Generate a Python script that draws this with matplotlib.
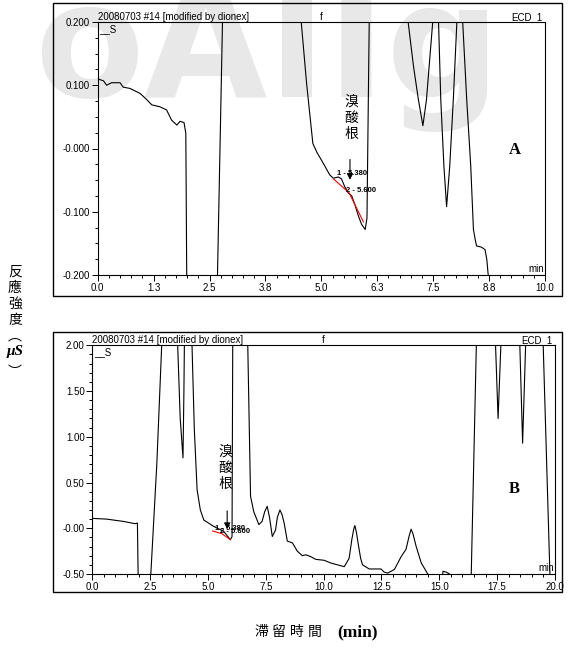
import matplotlib
matplotlib.use("Agg")
import matplotlib.pyplot as plt
from matplotlib.patches import Rectangle
from matplotlib.ticker import MultipleLocator, FixedLocator

cjk = ['Noto Sans CJK TC', 'DejaVu Sans']
plt.rcParams['font.family'] = ['Liberation Sans', 'DejaVu Sans']

# ---- panel A (0-10 min) ----
a_time = [0, 0.13, 0.2, 0.31, 0.5, 0.57, 0.72, 0.95, 1.1, 1.21, 1.39, 1.54, 1.65, 1.77, 1.84,
          1.93, 1.97, 1.99, 2.0, 2.65, 2.72, 2.79, 2.82, 4.5, 4.55, 4.67, 4.81, 4.9, 5.04, 5.19,
          5.27, 5.38, 5.45, 5.52, 5.6, 5.68, 5.75, 5.83, 5.9, 5.98, 6.02, 6.07, 6.09, 6.9, 6.94,
          7.06, 7.17, 7.27, 7.35, 7.41, 7.49, 7.51, 7.6, 7.62, 7.67, 7.74, 7.8, 7.87, 7.95, 8.03,
          8.05, 8.14, 8.16, 8.25, 8.34, 8.4, 8.44, 8.47, 8.58, 8.66, 8.7, 8.73, 8.76]
a_signal = [0.110, 0.107, 0.100, 0.104, 0.104, 0.097, 0.095, 0.087, 0.077, 0.069, 0.066, 0.061,
            0.045, 0.037, 0.043, 0.041, 0.024, -0.2, -0.3, -0.3, -0.05, 0.2, 0.3, 0.3, 0.2,
            0.103, 0.008, -0.006, -0.023, -0.042, -0.047, -0.045, -0.048, -0.060, -0.070,
            -0.075, -0.089, -0.107, -0.120, -0.128, -0.110, 0.2, 0.3, 0.3, 0.2, 0.13, 0.077,
            0.036, 0.077, 0.13, 0.2, 0.3, 0.3, 0.2, 0.077, -0.028, -0.092, -0.028, 0.077, 0.2,
            0.3, 0.3, 0.2, 0.077, -0.028, -0.128, -0.144, -0.154, -0.156, -0.160, -0.176, -0.2,
            -0.3]
a_base_t = [5.27, 5.62, 5.94]
a_base_y = [-0.048, -0.070, -0.116]
a_xticks = [0, 1.25, 2.5, 3.75, 5.0, 6.25, 7.5, 8.75, 10.0]
a_xlabels = ["0.0", "1.3", "2.5", "3.8", "5.0", "6.3", "7.5", "8.8", "10.0"]
a_yticks = [0.2, 0.1, 0.0, -0.1, -0.2]
a_ylabels = ["0.200", "0.100", "-0.000", "-0.100", "-0.200"]

# ---- panel B (0-20 min) ----
b_time = [0, 0.62, 1.34, 1.85, 1.95, 1.98, 2.0, 2.5, 2.53, 2.79, 3.0, 3.02, 3.67, 3.69, 3.8,
          3.92, 3.96, 3.98, 4.0, 4.29, 4.31, 4.41, 4.53, 4.67, 4.82, 5.25, 5.68, 5.97, 6.04,
          6.07, 6.09, 6.7, 6.72, 6.84, 6.98, 7.2, 7.34, 7.45, 7.56, 7.66, 7.78, 7.92, 8.0, 8.11,
          8.2, 8.29, 8.43, 8.65, 8.86, 9.08, 9.23, 9.44, 9.66, 10.02, 10.31, 10.6, 10.89, 11.1,
          11.22, 11.3, 11.35, 11.42, 11.5, 11.6, 11.68, 11.97, 12.48, 12.62, 12.77, 13.06, 13.35,
          13.56, 13.7, 13.78, 13.86, 14.0, 14.22, 14.5, 14.6, 15.05, 15.16, 15.3, 15.44, 15.5,
          16.3, 16.38, 16.6, 16.62, 17.41, 17.43, 17.54, 17.66, 17.68, 18.46, 18.48, 18.6,
          18.73, 18.75, 19.47, 19.49, 19.78, 19.8]
b_signal = [0.108, 0.100, 0.075, 0.050, 0.057, -0.5, -0.7, -0.7, -0.5, 0.71, 2.0, 2.3, 2.3,
            2.0, 1.2, 0.77, 1.5, 2.0, 2.3, 2.3, 2.0, 1.08, 0.42, 0.20, 0.09, 0.02, -0.034,
            -0.125, -0.09, 2.0, 2.3, 2.3, 2.0, 0.35, 0.18, 0.04, 0.075, 0.18, 0.24, 0.12, -0.09,
            -0.02, 0.12, 0.20, 0.15, 0.06, -0.14, -0.16, -0.25, -0.30, -0.29, -0.31, -0.34,
            -0.35, -0.38, -0.40, -0.42, -0.33, -0.12, -0.01, 0.03, -0.05, -0.18, -0.33, -0.40,
            -0.445, -0.445, -0.48, -0.49, -0.45, -0.31, -0.23, -0.08, -0.01, -0.06, -0.20,
            -0.38, -0.5, -0.7, -0.7, -0.47, -0.48, -0.5, -0.7, -0.7, -0.5, 2.0, 2.3, 2.3, 2.0,
            1.2, 2.0, 2.3, 2.3, 2.0, 0.93, 2.0, 2.3, 2.3, 2.0, -0.5, -0.7]
b_base_t = [5.2, 5.6, 5.97]
b_base_y = [-0.03, -0.06, -0.125]
b_xticks = [0, 2.5, 5.0, 7.5, 10.0, 12.5, 15.0, 17.5, 20.0]
b_xlabels = ["0.0", "2.5", "5.0", "7.5", "10.0", "12.5", "15.0", "17.5", "20.0"]
b_yticks = [2.0, 1.5, 1.0, 0.5, 0.0, -0.5]
b_ylabels = ["2.00", "1.50", "1.00", "0.50", "-0.00", "-0.50"]

peak_labels = ["1 - 5.380", "2 - 5.600"]
title_left = "20080703 #14 [modified by dionex]"
W, H = 572, 652


def px_box(x0, y0, x1, y1):
    # pixel box (top-left origin) -> figure fraction rect
    return [x0 / W, 1 - y1 / H, (x1 - x0) / W, (y1 - y0) / H]


fig = plt.figure(figsize=(5.72, 6.52), dpi=100, facecolor='white')

# faint watermark behind everything
fig.text(0.06, 1.035, "oAIIg", fontsize=115, fontweight='bold', color='#e8e8e8',
         ha='left', va='top', zorder=-5, family='DejaVu Sans')

for box in (px_box(53, 3, 562, 296), px_box(53, 332, 562, 592)):
    fig.add_artist(Rectangle((box[0], box[1]), box[2], box[3], transform=fig.transFigure,
                             fill=False, edgecolor='black', linewidth=1.0))


def setup(ax, xlim, ylim, xt, xl, yt, yl, xminor, yminor):
    ax.set_facecolor('none')
    ax.set_xlim(xlim)
    ax.set_ylim(ylim)
    ax.xaxis.set_major_locator(FixedLocator(xt))
    ax.set_xticklabels(xl)
    ax.yaxis.set_major_locator(FixedLocator(yt))
    ax.set_yticklabels(yl)
    ax.xaxis.set_minor_locator(MultipleLocator(xminor))
    ax.yaxis.set_minor_locator(MultipleLocator(yminor))
    ax.tick_params(which='major', direction='out', length=4, width=0.7, labelsize=7, pad=1.5)
    ax.tick_params(which='minor', direction='out', length=2.5, width=0.7)
    for s in ax.spines.values():
        s.set_linewidth(0.8)
    ax.text(0, 1.0, title_left, transform=ax.transAxes, ha='left', va='bottom', fontsize=7)
    ax.text(0.5, 1.0, "f", transform=ax.transAxes, ha='center', va='bottom', fontsize=7)
    ax.text(0.995, 1.0, "ECD_1", transform=ax.transAxes, ha='right', va='bottom', fontsize=7)
    ax.text(0.003, 0.99, "__S", transform=ax.transAxes, ha='left', va='top', fontsize=7)
    ax.text(0.997, 0.005, "min", transform=ax.transAxes, ha='right', va='bottom', fontsize=7)


axA = fig.add_axes(px_box(97.7, 22, 545, 275))
setup(axA, (0, 10), (-0.2, 0.2), a_xticks, a_xlabels, a_yticks, a_ylabels, 0.25, 0.025)
axA.plot(a_time, a_signal, color='black', lw=0.8)
axA.plot(a_base_t, a_base_y, color='red', lw=0.8)
axA.annotate("", xy=(5.64, -0.054), xytext=(5.64, -0.013),
             arrowprops=dict(arrowstyle='-|>', color='black', lw=0.8, mutation_scale=9))
axA.text(5.68, 0.048, "溴\n酸\n根", family=cjk, fontsize=10, ha='center', va='center',
         linespacing=1.2)
axA.text(5.36, -0.039, peak_labels[0], fontsize=5.5, fontweight='bold', ha='left', va='center')
axA.text(5.56, -0.066, peak_labels[1], fontsize=5.5, fontweight='bold', ha='left', va='center')
axA.text(9.33, -0.002, "A", family='Liberation Serif', fontsize=12, fontweight='bold',
         ha='center', va='center')

axB = fig.add_axes(px_box(92.3, 345.3, 555, 574))
setup(axB, (0, 20), (-0.5, 2.0), b_xticks, b_xlabels, b_yticks, b_ylabels, 0.5, 0.1)
axB.plot(b_time, b_signal, color='black', lw=0.8)
axB.plot(b_base_t, b_base_y, color='red', lw=0.8)
axB.annotate("", xy=(5.83, -0.04), xytext=(5.83, 0.22),
             arrowprops=dict(arrowstyle='-|>', color='black', lw=0.8, mutation_scale=9))
axB.text(5.75, 0.66, "溴\n酸\n根", family=cjk, fontsize=10, ha='center', va='center',
         linespacing=1.2)
axB.text(5.3, -0.005, peak_labels[0], fontsize=5.5, fontweight='bold', ha='left', va='center')
axB.text(5.5, -0.034, peak_labels[1], fontsize=5.5, fontweight='bold', ha='left', va='center')
axB.text(18.26, 0.43, "B", family='Liberation Serif', fontsize=12, fontweight='bold',
         ha='center', va='center')

# vertical y label
ylab_chars = ["反", "應", "強", "度", "︵"]
for i, ch in enumerate(ylab_chars):
    fig.text(15 / W, 1 - (272 + i * 16) / H, ch, family=cjk, fontsize=10,
             ha='center', va='center')
fig.text(15 / W, 1 - 351 / H, "μS", family='Liberation Serif', fontsize=11,
         fontweight='bold', style='italic', ha='center', va='center')
fig.text(15 / W, 1 - 372 / H, "︶", family=cjk, fontsize=10, ha='center', va='center')

# x label
for i, ch in enumerate("滯留時間"):
    fig.text((261 + i * 18) / W, 1 - 632 / H, ch, family=cjk, fontsize=10,
             ha='center', va='center')
fig.text(337 / W, 1 - 632 / H, "(min)", family='Liberation Serif', fontsize=12.5,
         fontweight='bold', ha='left', va='center')

fig.savefig("out.png", dpi=100, facecolor='white')
